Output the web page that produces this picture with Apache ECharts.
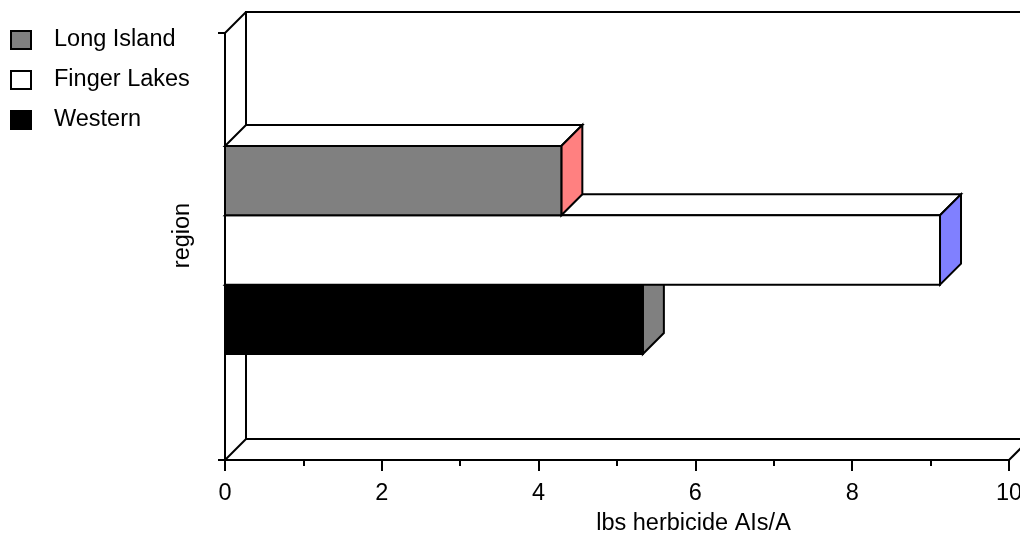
<!DOCTYPE html>
<html>
<head>
<meta charset="utf-8">
<script src="https://cdn.jsdelivr.net/npm/echarts@6/dist/echarts.min.js"></script>
<style>
html,body{margin:0;padding:0;background:#fff;}
#chart{width:1020px;height:535px;}
</style>
</head>
<body>
<div id="chart"></div>
<script>
// ---- data ----
const regions = ['Long Island', 'Finger Lakes', 'Western'];
const values = [4.29, 9.12, 5.33];
const xTicks = [0, 2, 4, 6, 8, 10];
const categories = [''];

// ---- styles ----
const frontColors = ['#808080', '#ffffff', '#000000'];
const sideColors = ['#ff8080', '#8080ff', '#808080'];
const topColors = ['#ffffff', '#ffffff', '#ffffff'];
const DEPTH = 21;
const BAR_FRAC = 0.1625;
const SHIFT = 3.5;
const FONT = "'Liberation Sans', Arial, Helvetica, sans-serif";
const FS = 23.5;

const chart = echarts.init(document.getElementById('chart'), null, {renderer: 'canvas'});

function renderWalls(params, api) {
  const p0 = api.coord([xTicks[0], 0]);
  const p1 = api.coord([xTicks[xTicks.length - 1], 0]);
  const band = api.size([0, 1])[1];
  const x0 = p0[0], x1 = p1[0];
  const yTop = p0[1] - band / 2, yBot = p0[1] + band / 2;
  const d = DEPTH;
  const ls = {stroke: '#000', lineWidth: 2, fill: null};
  return {
    type: 'group',
    children: [
      {type: 'polyline', shape: {points: [[x0 + d, yBot - d], [x0 + d, yTop - d], [x1 + d, yTop - d]]}, style: ls},
      {type: 'line', shape: {x1: x0 + d, y1: yBot - d, x2: x1 + d, y2: yBot - d}, style: ls},
      {type: 'line', shape: {x1: x0, y1: yTop, x2: x0 + d, y2: yTop - d}, style: ls},
      {type: 'line', shape: {x1: x0, y1: yBot, x2: x0 + d, y2: yBot - d}, style: ls},
      {type: 'line', shape: {x1: x1, y1: yBot, x2: x1 + d, y2: yBot - d}, style: ls}
    ]
  };
}

function makeRenderBar(i) {
  return function (params, api) {
    const v = api.value(0);
    const base = api.coord([0, 0]);
    const end = api.coord([v, 0]);
    const band = api.size([0, 1])[1];
    const h = band * BAR_FRAC;
    const top = base[1] - 1.5 * h + i * h + SHIFT;
    const x0 = base[0], x1 = end[0], d = DEPTH;
    const st = {stroke: '#000', lineWidth: 2, lineJoin: 'miter'};
    return {
      type: 'group',
      children: [
        {type: 'polygon', shape: {points: [[x0, top], [x0 + d, top - d], [x1 + d, top - d], [x1, top]]},
          style: Object.assign({fill: topColors[i]}, st)},
        {type: 'polygon', shape: {points: [[x1, top], [x1 + d, top - d], [x1 + d, top + h - d], [x1, top + h]]},
          style: Object.assign({fill: sideColors[i]}, st)},
        {type: 'rect', shape: {x: x0, y: top, width: x1 - x0, height: h},
          style: Object.assign({fill: frontColors[i]}, st)}
      ]
    };
  };
}

const series = [{
  type: 'custom',
  name: 'walls',
  z: 1,
  silent: true,
  renderItem: renderWalls,
  data: [[0, 0]]
}];
regions.forEach(function (name, i) {
  series.push({
    type: 'custom',
    name: name,
    z: 10 - i,
    itemStyle: {color: frontColors[i], borderColor: '#000', borderWidth: 2},
    renderItem: makeRenderBar(i),
    data: [[values[i], 0]]
  });
});

chart.setOption({
  animation: false,
  backgroundColor: '#fff',
  textStyle: {fontFamily: FONT, color: '#000'},
  legend: {
    orient: 'vertical',
    left: 10,
    top: 28,
    padding: 0,
    itemWidth: 20,
    itemHeight: 18,
    itemGap: 16,
    icon: 'rect',
    textStyle: {fontFamily: FONT, fontSize: FS, color: '#000', lineHeight: 24, padding: [0, 0, 0, 18]},
    data: regions.map(function (name, i) {
      return {name: name, itemStyle: {color: frontColors[i], borderColor: '#000', borderWidth: 2}};
    })
  },
  grid: {left: 225, right: 11, top: 33, bottom: 75, containLabel: false, outerBoundsMode: 'none'},
  xAxis: {
    type: 'value',
    min: xTicks[0],
    max: xTicks[xTicks.length - 1],
    interval: xTicks[1] - xTicks[0],
    name: 'lbs herbicide AIs/A',
    nameLocation: 'middle',
    nameGap: 52,
    nameTextStyle: {fontFamily: FONT, fontSize: FS, color: '#000', padding: [0, 0, 0, 153]},
    axisLine: {show: true, onZero: false, lineStyle: {color: '#000', width: 2}},
    axisTick: {show: true, length: 11, lineStyle: {color: '#000', width: 2}},
    minorTick: {show: true, splitNumber: 2, length: 6, lineStyle: {color: '#000', width: 2}},
    axisLabel: {fontFamily: FONT, fontSize: FS, color: '#000', margin: 22},
    splitLine: {show: false}
  },
  yAxis: {
    type: 'category',
    data: categories,
    name: 'region',
    nameLocation: 'middle',
    nameGap: 30,
    nameTextStyle: {fontFamily: FONT, fontSize: FS, color: '#000', padding: [0, 0, 0, 22]},
    axisLine: {show: true, lineStyle: {color: '#000', width: 2}},
    axisTick: {show: true, length: 7, lineStyle: {color: '#000', width: 2}},
    axisLabel: {show: false},
    splitLine: {show: false}
  },
  series: series
});
</script>
</body>
</html>
